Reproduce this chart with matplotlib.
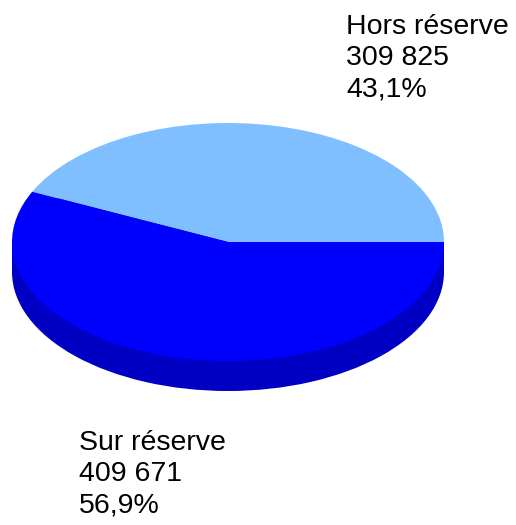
import numpy as np
import matplotlib.pyplot as plt

plt.rcParams['font.family'] = ['Liberation Sans', 'DejaVu Sans']

labels = ['Hors réserve', 'Sur réserve']
values = [309825, 409671]
shares = ['43,1%', '56,9%']
colors = ['#80BFFF', '#0000FF']
side_color = '#0000C4'

fig = plt.figure(figsize=(5.16, 5.25), dpi=100)
ax = fig.add_axes([0, 0, 1, 1])

# ellipse: centre at (228, 242) px, semi-axes 216 x 119 px, depth 30 px
cx, cy, rx, ry, depth = 228, 242, 216, 119, 30
d = depth / ry

# side of the pie (only the front, dark part shows)
ax.pie([1], colors=[side_color], center=(0, -d), radius=1,
       wedgeprops=dict(linewidth=0))
ax.fill_between([-1, 1], -d, 0, color=side_color, linewidth=0)

# top face
ax.pie(values, colors=colors, startangle=0, counterclock=True, center=(0, 0),
       radius=1, wedgeprops=dict(linewidth=0))
ax.set_aspect('auto')
ax.set_xlim(-cx / rx, (516 - cx) / rx)
ax.set_ylim(-(525 - cy) / ry, cy / ry)
ax.axis('off')

fmt = lambda v: f'{v:,}'.replace(',', ' ')
fig.text(346 / 516, 1 - 14 / 525, f'{labels[0]}\n{fmt(values[0])}\n{shares[0]}',
         fontsize=20.5, ha='left', va='top', linespacing=1.26)
fig.text(79 / 516, 1 - 430 / 525, f'{labels[1]}\n{fmt(values[1])}\n{shares[1]}',
         fontsize=20.5, ha='left', va='top', linespacing=1.26)

fig.savefig('out.png', dpi=100)
